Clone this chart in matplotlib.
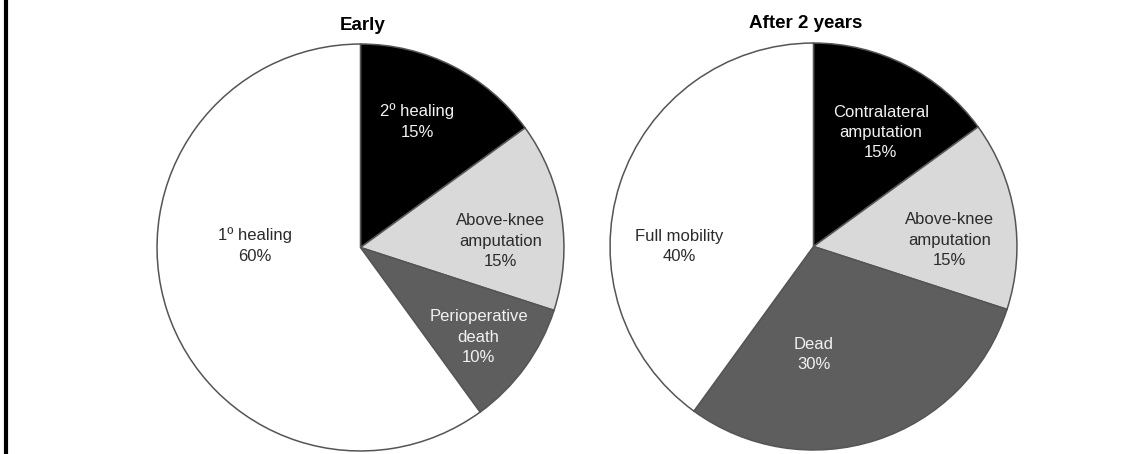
import matplotlib
matplotlib.use('Agg')
import matplotlib.pyplot as plt
from matplotlib.lines import Line2D

plt.rcParams['font.family'] = ['Liberation Sans', 'DejaVu Sans']

# outcome shares, drawn clockwise from 12 o'clock
early_labels = ['2º healing', 'Above-knee\namputation', 'Perioperative\ndeath', '1º healing']
early_values = [15, 15, 10, 60]
later_labels = ['Contralateral\namputation', 'Above-knee\namputation', 'Dead', 'Full mobility']
later_values = [15, 15, 30, 40]

slice_colors = ['#000000', '#d9d9d9', '#5e5e5e', '#ffffff']
text_colors = ['#f2f2f2', '#2b2b2b', '#f2f2f2', '#2b2b2b']

# where each label sits inside the unit pie
early_label_pos = [(0.28, 0.62), (0.69, 0.03), (0.58, -0.44), (-0.52, 0.01)]
later_label_pos = [(0.33, 0.56), (0.67, 0.03), (0.0, -0.53), (-0.66, 0.0)]

W, H = 1147, 454
fig = plt.figure(figsize=(W / 100, H / 100), dpi=100)


def draw_pie(ax, values, labels, positions, title, title_x=0.5):
    ax.pie(values, colors=slice_colors, startangle=90, counterclock=False,
           radius=1.0,
           wedgeprops=dict(edgecolor='#555555', linewidth=1.1))
    for (x, y), lab, val, tc in zip(positions, labels, values, text_colors):
        ax.text(x, y, '%s\n%d%%' % (lab, val), ha='center', va='center',
                fontsize=12, color=tc, linespacing=1.45)
    ax.set_xlim(-1.01, 1.01)
    ax.set_ylim(-1.01, 1.01)
    ax.set_aspect('equal')
    ax.axis('off')
    ax.set_title(title, fontsize=13.5, fontweight='bold', pad=9, x=title_x)


ax1 = fig.add_axes([155 / W, 1 / H, 411 / W, 411 / H])
draw_pie(ax1, early_values, early_labels, early_label_pos, 'Early', 0.505)

ax2 = fig.add_axes([608 / W, 2 / H, 411 / W, 411 / H])
draw_pie(ax2, later_values, later_labels, later_label_pos, 'After 2 years', 0.48)

# vertical rule on the left margin
fig.add_artist(Line2D([6 / W, 6 / W], [0, 1], transform=fig.transFigure,
                      color='black', linewidth=3))

fig.savefig('out.png', dpi=100)
